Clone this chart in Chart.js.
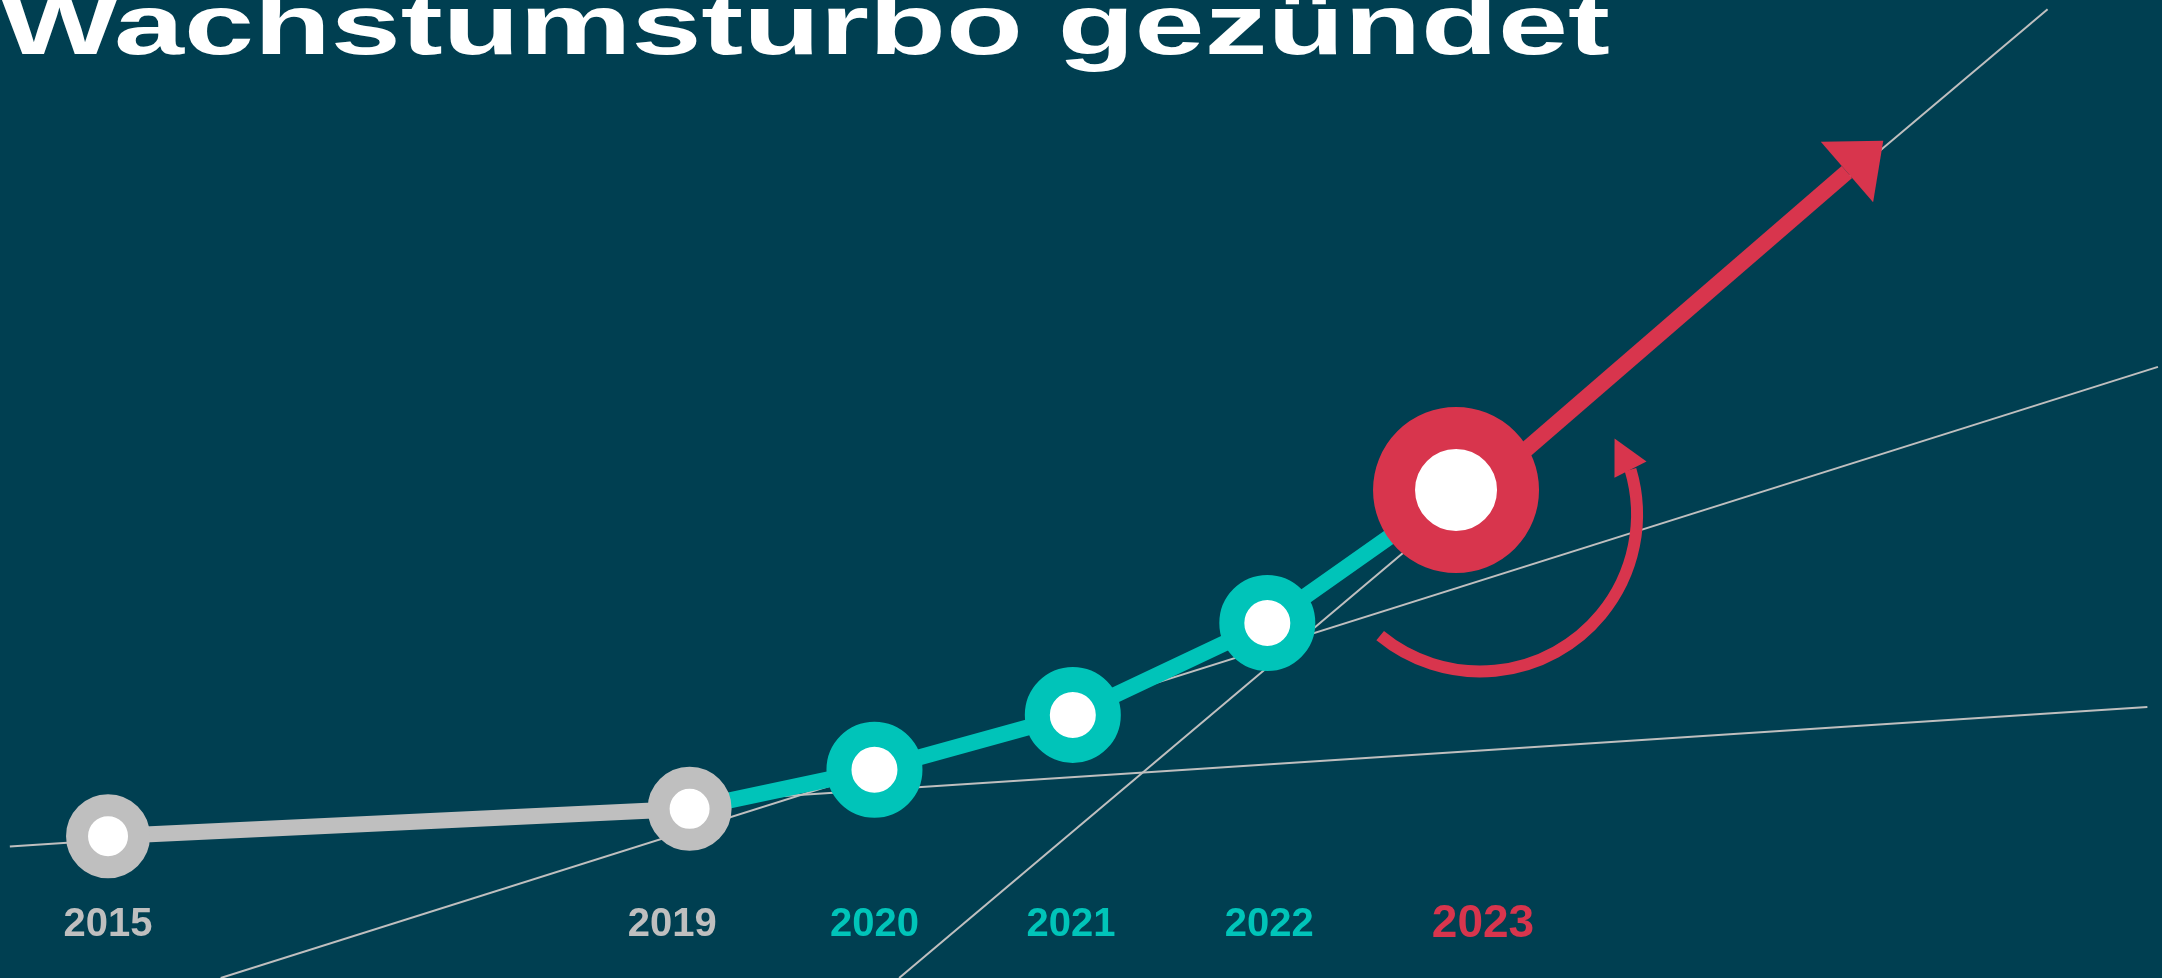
<!DOCTYPE html>
<html>
<head>
<meta charset="utf-8">
<script src="https://cdn.jsdelivr.net/npm/chart.js@4.4.1/dist/chart.umd.min.js"></script>
<style>
html,body{margin:0;padding:0;background:#003f51;overflow:hidden;}
#wrap{position:relative;width:2162px;height:978px;background:#003f51;}
#c{position:absolute;left:0;top:0;}
#title{position:absolute;left:0;top:-18px;margin:0;font-family:"Liberation Sans",Arial,sans-serif;font-weight:bold;font-size:85px;line-height:1;color:#ffffff;white-space:nowrap;transform:scaleX(1.48);transform-origin:0 0;}
</style>
</head>
<body>
<div id="wrap">
  <canvas id="c" width="2162" height="978"></canvas>
  <h1 id="title">Wachstumsturbo gezündet</h1>
</div>
<script>
// ---- data ----
const years = ['2015', '2019', '2020', '2021', '2022', '2023'];
const stepPos = [0, 3.02, 3.98, 5.01, 6.02, 7];          // horizontal position of each year
const indexValues = [14.5, 17.3, 21.3, 26.9, 36.3, 49.9]; // growth index
const labelPos = [0, 2.93, 3.98, 5.0, 6.03, 7.14];       // where the year labels sit
const trendA = [[-0.51, 13.44], [10.59, 27.71]];          // pace 2015–2019
const trendB = [[0.585, 0], [10.645, 62.49]];             // pace 2019–2021
const trendC = [[4.108, 0], [10.072, 99.05]];             // pace 2022–2023
const arrowStart = [7, 47.85];                            // outlook arrow, start (under 2023 marker)
const arrowEnd = [9.03, 82.41];                           // outlook arrow, end of shaft

// ---- styles ----
const GRAY = '#bfbfbf';
const TEAL = '#00c4b9';
const RED = '#d8354d';
const WHITE = '#ffffff';

const pt = (i) => ({x: stepPos[i], y: indexValues[i]});
const pair = (a) => a.map(p => ({x: p[0], y: p[1]}));

const thin = (arr) => ({
  data: pair(arr), borderColor: GRAY, borderWidth: 2, pointRadius: 0,
  tension: 0, fill: false, clip: false
});

const decor = {
  id: 'decor',
  afterDatasetsDraw(chart) {
    const ctx = chart.ctx, xs = chart.scales.x, ys = chart.scales.y;
    const px = v => xs.getPixelForValue(v), py = v => ys.getPixelForValue(v);
    const p23 = {x: px(stepPos[5]), y: py(indexValues[5])};
    const ps = {x: px(arrowStart[0]), y: py(arrowStart[1])};
    const pe = {x: px(arrowEnd[0]), y: py(arrowEnd[1])};
    ctx.save();
    // straight arrowhead
    let dx = pe.x - ps.x, dy = pe.y - ps.y;
    const L = Math.hypot(dx, dy); dx /= L; dy /= L;
    ctx.fillStyle = RED;
    ctx.beginPath();
    ctx.moveTo(pe.x + dx * 48, pe.y + dy * 48);
    ctx.lineTo(pe.x - dy * 40, pe.y + dx * 40);
    ctx.lineTo(pe.x + dy * 40, pe.y - dx * 40);
    ctx.closePath();
    ctx.fill();
    // curved arrow around 2023
    const cx = p23.x + 24, cy = p23.y + 24.5, R = 157;
    const a0 = 129.5 * Math.PI / 180, a1 = -16.6 * Math.PI / 180;
    ctx.strokeStyle = RED; ctx.lineWidth = 12; ctx.lineCap = 'butt';
    ctx.beginPath();
    ctx.arc(cx, cy, R, a0, a1, true);
    ctx.stroke();
    const ex = cx + R * Math.cos(a1), ey = cy + R * Math.sin(a1);
    const hd = a1 - Math.PI / 2 - 10.5 * Math.PI / 180;
    const hx = Math.cos(hd), hy = Math.sin(hd);
    ctx.beginPath();
    ctx.moveTo(ex + hx * 35, ey + hy * 35);
    ctx.lineTo(ex - hy * 18, ey + hx * 18);
    ctx.lineTo(ex + hy * 18, ey - hx * 18);
    ctx.closePath();
    ctx.fill();
    // year labels
    ctx.textAlign = 'center';
    ctx.textBaseline = 'alphabetic';
    years.forEach((y, i) => {
      const big = i === years.length - 1;
      ctx.font = 'bold ' + (big ? 46 : 40) + 'px "Liberation Sans", Arial, sans-serif';
      ctx.fillStyle = i < 2 ? GRAY : (big ? RED : TEAL);
      ctx.fillText(y, px(labelPos[i]), chart.chartArea.bottom - (big ? 41 : 42));
    });
    ctx.restore();
  }
};

new Chart(document.getElementById('c'), {
  type: 'line',
  data: {
    datasets: [
      { // 2023 marker
        data: [pt(5)], showLine: false,
        pointRadius: 62, pointBorderWidth: 42,
        pointBackgroundColor: WHITE, pointBorderColor: RED, clip: false
      },
      { // outlook arrow
        data: pair([arrowStart, arrowEnd]),
        borderColor: RED, borderWidth: 16, pointRadius: 0, tension: 0, clip: false
      },
      { // 2015–2019
        data: [pt(0), pt(1)],
        borderColor: GRAY, borderWidth: 16, tension: 0,
        pointRadius: 31, pointBorderWidth: 22,
        pointBackgroundColor: WHITE, pointBorderColor: GRAY, clip: false
      },
      { // 2019–2023
        data: [pt(1), pt(2), pt(3), pt(4), pt(5)],
        borderColor: TEAL, borderWidth: 16, tension: 0,
        pointRadius: [0, 35.5, 35.5, 35.5, 0], pointBorderWidth: 25,
        pointBackgroundColor: WHITE, pointBorderColor: TEAL, clip: false
      },
      thin(trendA),
      thin(trendB),
      thin(trendC)
    ]
  },
  options: {
    responsive: false,
    animation: false,
    events: [],
    layout: {padding: 0, autoPadding: false},
    plugins: {legend: {display: false}, tooltip: {enabled: false}, title: {display: false}},
    scales: {
      x: {type: 'linear', min: -0.561, max: 10.666, display: false},
      y: {type: 'linear', min: 0, max: 100, display: false}
    }
  },
  plugins: [decor]
});
</script>
</body>
</html>
